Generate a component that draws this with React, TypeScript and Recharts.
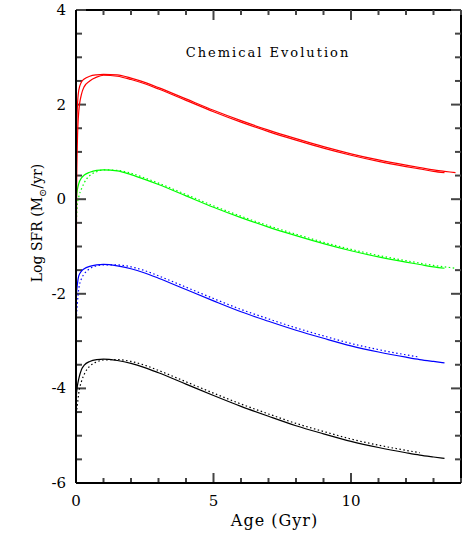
import { LineChart, Line, XAxis, YAxis, ReferenceLine } from 'recharts';

// age grid (Gyr) shared by every curve
const AGES = [0, 0.02, 0.05, 0.1, 0.2, 0.3, 0.5, 0.75, 1, 1.5, 2, 2.5, 3, 4, 5, 6, 7, 8, 9, 10, 11, 12, 12.5, 13, 13.4, 13.8];

const RED_A = [-6, 1.2, 1.95, 2.3, 2.48, 2.54, 2.6, 2.63, 2.64, 2.63, 2.56, 2.47, 2.36, 2.12, 1.88, 1.66, 1.46, 1.28, 1.11, 0.96, 0.83, 0.72, 0.67, 0.62, 0.59, 0.56];
const RED_B = [-6, 0.2, 1.2, 1.85, 2.22, 2.38, 2.5, 2.58, 2.62, 2.6, 2.53, 2.44, 2.33, 2.09, 1.85, 1.63, 1.43, 1.25, 1.08, 0.93, 0.8, 0.69, 0.64, 0.59, 0.56, null];
const GREEN_SOLID = [-0.2, 0.05, 0.2, 0.33, 0.45, 0.51, 0.57, 0.61, 0.62, 0.6, 0.52, 0.42, 0.31, 0.07, -0.17, -0.39, -0.59, -0.77, -0.94, -1.09, -1.22, -1.33, -1.38, -1.43, -1.46, null];
const GREEN_DOT = [-0.8, -0.4, -0.1, 0.05, 0.22, 0.35, 0.5, 0.58, 0.62, 0.61, 0.55, 0.45, 0.34, 0.1, -0.14, -0.36, -0.56, -0.74, -0.91, -1.06, -1.19, -1.3, -1.35, -1.4, -1.43, -1.46];
const BLUE_SOLID = [-2.3, -2.0, -1.8, -1.62, -1.52, -1.47, -1.42, -1.39, -1.38, -1.41, -1.47, -1.56, -1.67, -1.91, -2.15, -2.38, -2.58, -2.77, -2.94, -3.1, -3.23, -3.34, -3.39, -3.43, -3.46, null];
const BLUE_DOT = [-2.8, -2.45, -2.2, -1.9, -1.68, -1.58, -1.47, -1.41, -1.39, -1.39, -1.43, -1.51, -1.62, -1.86, -2.1, -2.33, -2.53, -2.72, -2.89, -3.05, -3.18, -3.29, -3.34, null, null, null];
const BLACK_SOLID = [-4.3, -4.1, -3.95, -3.8, -3.6, -3.51, -3.43, -3.39, -3.38, -3.41, -3.47, -3.56, -3.67, -3.91, -4.15, -4.38, -4.59, -4.79, -4.96, -5.12, -5.25, -5.36, -5.41, -5.45, -5.48, null];
const BLACK_DOT = [-4.7, -4.5, -4.35, -4.1, -3.85, -3.7, -3.53, -3.44, -3.4, -3.39, -3.43, -3.51, -3.62, -3.86, -4.1, -4.33, -4.54, -4.74, -4.91, -5.07, -5.2, -5.31, -5.36, null, null, null];

const X_DOMAIN = [0, 14];
const Y_DOMAIN = [-6, 4];
const X_TICKS = [0, 1, 2, 3, 4, 5, 6, 7, 8, 9, 10, 11, 12, 13, 14];
const X_LABELED = [0, 5, 10];
const Y_TICKS = [-6, -5.5, -5, -4.5, -4, -3.5, -3, -2.5, -2, -1.5, -1, -0.5, 0, 0.5, 1, 1.5, 2, 2.5, 3, 3.5, 4];
const Y_LABELED = [-6, -4, -2, 0, 2, 4];

const data = AGES.map((age, i) => ({
  age,
  redA: RED_A[i],
  redB: RED_B[i],
  greenSolid: GREEN_SOLID[i],
  greenDot: GREEN_DOT[i],
  blueSolid: BLUE_SOLID[i],
  blueDot: BLUE_DOT[i],
  blackSolid: BLACK_SOLID[i],
  blackDot: BLACK_DOT[i],
}));

const W = 463;
const H = 536;
const LEFT = 76;
const RIGHT = 461;
const TOP = 10;
const BOTTOM = 483;
const M = { top: TOP, right: W - RIGHT, bottom: H - BOTTOM - 1, left: LEFT - 1 };

// tick lengths in pixels turned into data units
const PX_X = (X_DOMAIN[1] - X_DOMAIN[0]) / (RIGHT - LEFT);
const PX_Y = (Y_DOMAIN[1] - Y_DOMAIN[0]) / (BOTTOM - TOP);

const FONT = '"DejaVu Serif", serif';
const TICK_STROKE = '#444';
const TICK_W = 2;
const FRAME_W = 2;

const BottomLabel = (props: any) => {
  const { x, payload } = props;
  if (!X_LABELED.includes(payload.value)) return <g />;
  return (
    <text x={x} y={BOTTOM + 23} textAnchor="middle" fontFamily={FONT} fontSize={15} fill="#000">
      {payload.value}
    </text>
  );
};

const LeftLabel = (props: any) => {
  const { y, payload } = props;
  if (!Y_LABELED.includes(payload.value)) return <g />;
  return (
    <text x={LEFT - 10} y={y + 5} textAnchor="end" fontFamily={FONT} fontSize={15} fill="#000">
      {payload.value}
    </text>
  );
};

const axisLine = { stroke: '#000', strokeWidth: FRAME_W };

export default function App() {
  const xTickMarks = X_TICKS.flatMap((t) => {
    const len = (X_LABELED.includes(t) ? 10 : 5) * PX_Y;
    return [
      <ReferenceLine key={`b${t}`} segment={[{ x: t, y: Y_DOMAIN[0] }, { x: t, y: Y_DOMAIN[0] + len }]} stroke={TICK_STROKE} strokeWidth={TICK_W} ifOverflow="visible" />,
      <ReferenceLine key={`t${t}`} segment={[{ x: t, y: Y_DOMAIN[1] }, { x: t, y: Y_DOMAIN[1] - len }]} stroke={TICK_STROKE} strokeWidth={TICK_W} ifOverflow="visible" />,
    ];
  });
  const yTickMarks = Y_TICKS.flatMap((t) => {
    const len = (Y_LABELED.includes(t) ? 10 : 6) * PX_X;
    return [
      <ReferenceLine key={`l${t}`} segment={[{ x: X_DOMAIN[0], y: t }, { x: X_DOMAIN[0] + len, y: t }]} stroke={TICK_STROKE} strokeWidth={TICK_W} ifOverflow="visible" />,
      <ReferenceLine key={`r${t}`} segment={[{ x: X_DOMAIN[1], y: t }, { x: X_DOMAIN[1] - len, y: t }]} stroke={TICK_STROKE} strokeWidth={TICK_W} ifOverflow="visible" />,
    ];
  });

  return (
    <div style={{ position: 'absolute', left: 0, top: 0, width: W, height: H, background: '#fff' }}>
      <LineChart width={W} height={H} data={data} margin={M}>
        <XAxis
          dataKey="age"
          type="number"
          domain={X_DOMAIN}
          ticks={X_TICKS}
          height={1}
          axisLine={axisLine}
          tickLine={false}
          tick={BottomLabel}
          interval={0}
        />
        <YAxis
          type="number"
          domain={Y_DOMAIN}
          ticks={Y_TICKS}
          width={1}
          allowDataOverflow
          axisLine={axisLine}
          tickLine={false}
          tick={LeftLabel}
          interval={0}
        />
        <ReferenceLine y={Y_DOMAIN[1]} stroke="#000" strokeWidth={FRAME_W} ifOverflow="visible" />
        <ReferenceLine x={X_DOMAIN[1]} stroke="#000" strokeWidth={FRAME_W} ifOverflow="visible" />
        {xTickMarks}
        {yTickMarks}
        <Line dataKey="blackDot" type="monotone" stroke="#000" strokeWidth={1.2} strokeDasharray="1.5 2.5" dot={false} isAnimationActive={false} />
        <Line dataKey="blackSolid" type="monotone" stroke="#000" strokeWidth={1.2} dot={false} isAnimationActive={false} />
        <Line dataKey="blueDot" type="monotone" stroke="#0000ff" strokeWidth={1.2} strokeDasharray="1.5 2.5" dot={false} isAnimationActive={false} />
        <Line dataKey="blueSolid" type="monotone" stroke="#0000ff" strokeWidth={1.2} dot={false} isAnimationActive={false} />
        <Line dataKey="greenDot" type="monotone" stroke="#00ff00" strokeWidth={1.2} strokeDasharray="1.5 2.5" dot={false} isAnimationActive={false} />
        <Line dataKey="greenSolid" type="monotone" stroke="#00ff00" strokeWidth={1.2} dot={false} isAnimationActive={false} />
        <Line dataKey="redB" type="monotone" stroke="#ff0000" strokeWidth={1.2} dot={false} isAnimationActive={false} />
        <Line dataKey="redA" type="monotone" stroke="#ff0000" strokeWidth={1.2} dot={false} isAnimationActive={false} />
      </LineChart>
      <div style={{ position: 'absolute', left: 0, width: 536, top: 45, textAlign: 'center', fontFamily: FONT, fontSize: 13, letterSpacing: 2, color: '#000' }}>
        Chemical Evolution
      </div>
      <div style={{ position: 'absolute', left: 0, width: W, top: 511, paddingLeft: 86, boxSizing: 'border-box', textAlign: 'center', fontFamily: FONT, fontSize: 16, letterSpacing: 1, color: '#000', lineHeight: '20px' }}>
        Age (Gyr)
      </div>
      <div
        style={{
          position: 'absolute',
          left: 40,
          top: 223,
          transform: 'translate(-50%, -50%) rotate(-90deg)',
          whiteSpace: 'nowrap',
          fontFamily: FONT,
          fontSize: 14,
          color: '#000',
          lineHeight: '16px',
        }}
      >
        Log SFR (M<sub style={{ fontSize: 10 }}>⊙</sub>/yr)
      </div>
    </div>
  );
}
